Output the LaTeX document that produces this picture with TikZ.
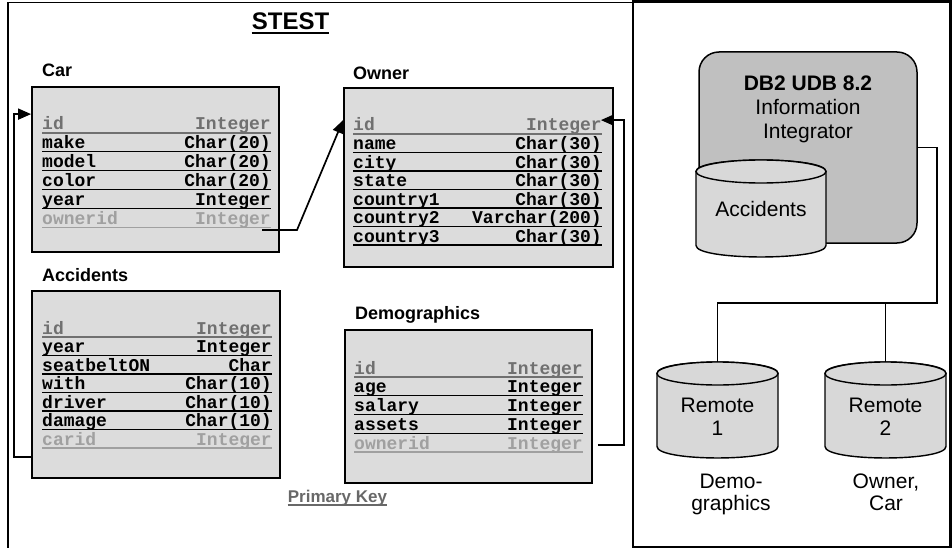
\documentclass[tikz,border=0pt]{standalone}
\usepackage{fontspec}
\setmainfont{Liberation Sans}
\setmonofont{Liberation Mono}
\usetikzlibrary{arrows.meta}
\definecolor{pkgray}{HTML}{707070}
\definecolor{fkgray}{HTML}{A0A0A0}
\definecolor{keygray}{HTML}{686868}
\definecolor{boxgray}{HTML}{DCDCDC}
\definecolor{dbgray}{HTML}{C0C0C0}
\definecolor{cylgray}{HTML}{D8D8D8}
\tikzset{tablebox/.style={draw=black, line width=1.8pt, fill=boxgray, inner sep=0pt},
 tname/.style={font=\fontsize{18}{21}\selectfont\bfseries, anchor=base west, inner sep=0pt},
 title/.style={font=\fontsize{24}{28}\selectfont\bfseries, anchor=base, inner sep=0pt},
 col/.style={font=\fontsize{18}{20}\selectfont\ttfamily\bfseries, inner sep=0pt},
 rowline/.style={line width=1.2pt},
 link/.style={line width=1.7pt},
 fk/.style={link, -{Triangle[length=13pt,width=11pt]}},
 dbbox/.style={draw=black, line width=1.5pt, fill=dbgray, rounded corners=20pt},
 cyl/.style={draw=black, line width=1.4pt, fill=cylgray},
 big/.style={font=\fontsize{21}{24}\selectfont, anchor=base, inner sep=0pt},
 bigb/.style={big, font=\fontsize{21}{24}\selectfont\bfseries},
 }

\begin{document}
\begin{tikzpicture}[x=1pt,y=-1pt]
    \useasboundingbox (0,0) rectangle (952,548);
    \draw[line width=1.8pt] (8,548) -- (8,2.5) -- (633,2.5);
    \draw[line width=2.6pt] (633,1.5) rectangle (950.5,547);

    \node[title] (stest) at (290.5,30) {STEST};
    \draw[line width=2.3pt] ([yshift=-3pt]stest.base west) -- ([yshift=-3pt]stest.base east);

    % Car
    \node[tname] (carlbl) at (42,77) {Car};
    \node[tablebox, minimum width=247, minimum height=165] (car) at (155.5,169.5) {};
    \foreach \nm/\ty/\cl [count=\i] in {id/Integer/pkgray, make/Char(20)/black, model/Char(20)/black,
        color/Char(20)/black, year/Integer/black, ownerid/Integer/fkgray} {
        \pgfmathsetmacro\yy{133+18.9*(\i-1)}
        \node[col, anchor=base west, text=\cl] (car-\i-n) at (42,\yy-3) {\nm};
        \node[col, anchor=base east, text=\cl] (car-\i-t) at (271,\yy-3) {\ty};
        \draw[rowline, draw=\cl] (42,\yy) -- (271,\yy);
    }

    % Owner
    \node[tname] (ownerlbl) at (353,80) {Owner};
    \node[tablebox, minimum width=269, minimum height=179] (owner) at (478.5,177.5) {};
    \foreach \nm/\ty/\cl [count=\i] in {id/Integer/pkgray, name/Char(30)/black, city/Char(30)/black,
        state/Char(30)/black, country1/Char(30)/black, country2/Varchar(200)/black, country3/Char(30)/black} {
        \pgfmathsetmacro\yy{134+18.5*(\i-1)}
        \node[col, anchor=base west, text=\cl] (owner-\i-n) at (353,\yy-3) {\nm};
        \node[col, anchor=base east, text=\cl] (owner-\i-t) at (602,\yy-3) {\ty};
        \draw[rowline, draw=\cl] (353,\yy) -- (602,\yy);
    }

    % Accidents
    \node[tname] (acclbl) at (42,281) {Accidents};
    \node[tablebox, minimum width=248, minimum height=187] (acc) at (156,384.5) {};
    \foreach \nm/\ty/\cl [count=\i] in {id/Integer/pkgray, year/Integer/black, seatbeltON/Char/black,
        with/Char(10)/black, driver/Char(10)/black, damage/Char(10)/black, carid/Integer/fkgray} {
        \pgfmathsetmacro\yy{337+18.5*(\i-1)}
        \node[col, anchor=base west, text=\cl] (acc-\i-n) at (42,\yy-3) {\nm};
        \node[col, anchor=base east, text=\cl] (acc-\i-t) at (272,\yy-3) {\ty};
        \draw[rowline, draw=\cl] (42,\yy) -- (272,\yy);
    }

    % Demographics
    \node[tname] (demolbl) at (355,319) {Demographics};
    \node[tablebox, minimum width=247, minimum height=153] (demo) at (468.5,406.5) {};
    \foreach \nm/\ty/\cl [count=\i] in {id/Integer/pkgray, age/Integer/black, salary/Integer/black,
        assets/Integer/black, ownerid/Integer/fkgray} {
        \pgfmathsetmacro\yy{377+18.75*(\i-1)}
        \node[col, anchor=base west, text=\cl] (demo-\i-n) at (354,\yy-3) {\nm};
        \node[col, anchor=base east, text=\cl] (demo-\i-t) at (583,\yy-3) {\ty};
        \draw[rowline, draw=\cl] (354,\yy) -- (583,\yy);
    }

    \node[font=\fontsize{17}{20}\selectfont\bfseries, text=keygray, anchor=base, inner sep=0pt] (pk) at (337.5,502) {Primary Key};
    \draw[line width=2pt, draw=keygray] ([yshift=-3pt]pk.base west) -- ([yshift=-3pt]pk.base east);

    % foreign keys
    \coordinate (carin) at ([yshift=-28pt]car.north west);
    \coordinate (accout) at ([yshift=22pt]acc.south west);
    \draw[fk] (accout) -- ++(-17,0) |- (carin);
    \coordinate (carout) at (262,230);
    \coordinate (ownin) at ([yshift=-33pt]owner.north west);
    \draw[fk] (carout) -- ++(35,0) -- (ownin);
    \coordinate (demout) at ([xshift=5pt,yshift=-116pt]demo.north east);
    \coordinate (ownin2) at ([xshift=-13pt,yshift=-33pt]owner.north east);
    \draw[fk] (demout) -- ++(26,0) |- (ownin2);

    % federated server
    \node[dbbox, minimum width=218, minimum height=191] (ii) at (808,147.5) {};
    \node[bigb] (ii-1) at (808,91) {DB2 UDB 8.2};
    \node[big] (ii-2) at (808,115) {Information};
    \node[big] (ii-3) at (808,138.5) {Integrator};
    \foreach \xl/\xr/\yt/\yb/\nm in {696/826/160/257/accdb, 657/778/362/458/rem1, 825/946/362/458/rem2} {
        \pgfmathsetmacro\rx{(\xr-\xl)/2}
        \pgfmathsetmacro\ya{\yt+11.5}
        \pgfmathsetmacro\yc{\yb-11.5}
        \filldraw[cyl] (\xl,\ya) -- (\xl,\yc) .. controls (\xl,\yc+15.3) and (\xr,\yc+15.3) .. (\xr,\yc)
            -- (\xr,\ya) .. controls (\xr,\ya-15.3) and (\xl,\ya-15.3) .. (\xl,\ya) -- cycle;
        \draw[cyl] (\xl+\rx,\ya) ellipse [x radius=\rx, y radius=11.5];
        \coordinate (\nm) at (\xl+\rx,\yt);
    }
    \node[big] (accdb-lbl) at (761,216) {Accidents};
    \node[big] (rem1-a) at (717.5,412) {Remote};
    \node[big] (rem1-b) at (717.5,435) {1};
    \node[big] (rem2-a) at (885.5,412) {Remote};
    \node[big] (rem2-b) at (885.5,435) {2};
    \node[big] (rem1-c) at (731,488) {Demo-};
    \node[big] (rem1-d) at (731,510) {graphics};
    \node[big] (rem2-c) at (886,488) {Owner,};
    \node[big] (rem2-d) at (886,510) {Car};

    \coordinate (bus) at ([yshift=59pt]rem2);
    \draw[link] (ii.east) -- ++(19,0) |- (bus) -| (rem1);
    \draw[link] (bus) -- (rem2);
\end{tikzpicture}
\end{document}
